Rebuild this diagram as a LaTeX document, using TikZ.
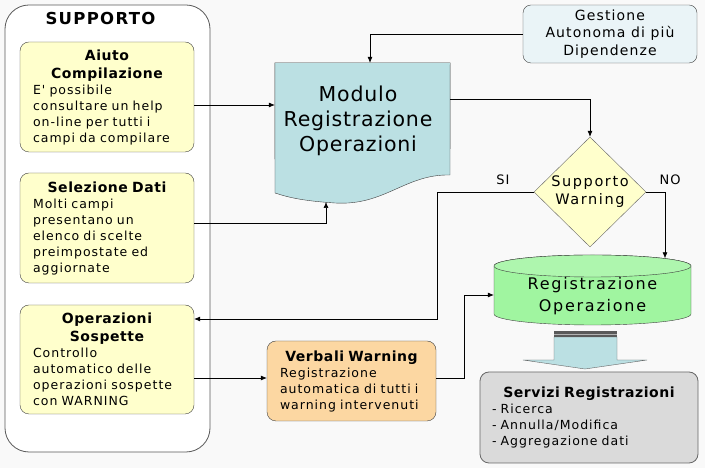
\documentclass[tikz,border=0pt]{standalone}
\usepackage{fontspec}
\setmainfont{DejaVu Sans}
\newfontfamily\wideA{DejaVu Sans}[LetterSpace=4]
\newfontfamily\wideB{DejaVu Sans}[LetterSpace=8]
\newfontfamily\wideC{DejaVu Sans}[LetterSpace=11]
\usepackage{xcolor}
\usetikzlibrary{arrows.meta, positioning, shapes.geometric}

\definecolor{paleyellow}{HTML}{FFFFCC}
\definecolor{paleteal}{HTML}{BBE0E3}
\definecolor{paleblue}{HTML}{EAF4F7}
\definecolor{palegreen}{HTML}{A0F5A0}
\definecolor{paleorange}{HTML}{FCD7A2}
\definecolor{palegray}{HTML}{DADADA}
\definecolor{bggray}{HTML}{F9F9F9}

\newcommand{\boxttl}{\wideA\bfseries\fontsize{14}{18}\selectfont}

\begin{document}
\begin{tikzpicture}[x=1pt, y=1pt,
  box/.style={rectangle, draw=black!75, rounded corners=9pt, inner sep=0pt,
              minimum width=174pt, minimum height=110pt, text width=148pt,
              align=left, font=\wideB\fontsize{12.5}{16}\selectfont},
  arr/.style={-{Latex[length=6pt, width=5pt]}, semithick},
  every node/.style={font=\wideB\fontsize{12.5}{16}\selectfont}
]
  \useasboundingbox (0,0) rectangle (705,468);
  \fill[bggray] (0,0) rectangle (705,468);

  % Supporto
  \node[rectangle, draw=black!65, thick, fill=white, rounded corners=24pt,
        minimum width=205pt, minimum height=447pt] (sup) at (107.5,239.5) {};
  \node[font=\wideB\bfseries\fontsize{16.5}{18}\selectfont, below=4pt of sup.north,
        xshift=-7pt] (supt) {SUPPORTO};

  % Aiuto compilazione
  \node[box, fill=paleyellow] (aiuto) at (107,371)
    {{\centering\boxttl Aiuto\\Compilazione\par}
     E' possibile\\consultare un help\\on-line per tutti i\\campi da compilare};

  % Selezione dati
  \node[box, fill=paleyellow] (sel) at (107,240)
    {{\centering\boxttl Selezione Dati\par}
     Molti campi\\presentano un\\elenco di scelte\\preimpostate ed\\aggiornate};

  % Operazioni sospette
  \node[box, fill=paleyellow, minimum height=109pt] (ops) at (107,108.5)
    {{\centering\boxttl Operazioni\\Sospette\par}
     Controllo\\automatico delle\\operazioni sospette\\con WARNING};

  % Modulo (document)
  \node[minimum width=175pt, minimum height=115pt] (modulo) at (362.5,347.5) {};
  \fill[paleteal, draw=black!75] (modulo.north west) -- (modulo.north east)
    -- (450,293) .. controls (405,294) and (385,262) .. (335,265)
    .. controls (305,267) and (290,270) .. (275,275) -- cycle;
  \node[align=center, font=\wideA\fontsize{20.5}{25}\selectfont] (modt) at (358,347)
    {Modulo\\Registrazione\\Operazioni};
  \coordinate (modbot) at (326,266);

  % Gestione
  \node[rectangle, draw=black!75, fill=paleblue, rounded corners=8pt,
        minimum width=174pt, minimum height=58pt, align=center,
        font=\wideB\fontsize{14}{17.5}\selectfont] (gest) at (610,434)
    {Gestione\\Autonoma di più\\Dipendenze};

  % Supporto warning
  \node[diamond, draw=black!60, fill=paleyellow, inner sep=0pt, minimum width=112pt,
        minimum height=110pt, align=center, font=\wideC\fontsize{14.5}{18}\selectfont] (warn) at (590,276)
    {Supporto\\Warning};
  \node[font=\wideB\fontsize{13}{16}\selectfont] (si) at (503,288) {SI};
  \node[font=\wideB\fontsize{13}{16}\selectfont] (no) at (670,288) {NO};

  % Registrazione operazione (cylinder)
  \node[minimum width=197pt, minimum height=70pt] (reg) at (592.5,178) {};
  \fill[palegreen, draw=black!75] (494,202) -- (494,154) arc (180:360:98.5 and 11)
    -- (691,202) arc (0:180:98.5 and 11) -- cycle;
  \draw[black!75, fill=palegreen!85!white] (592.5,202) ellipse (98.5 and 11);
  \node[align=center, font=\wideC\fontsize{16}{22}\selectfont] (regt) at (592.5,172)
    {Registrazione\\Operazione};

  % Verbali warning
  \node[box, fill=paleorange, minimum width=169pt, minimum height=80pt,
        text width=143pt] (verb) at (351.5,87)
    {{\centering\boxttl Verbali Warning\par}
     Registrazione\\automatica di tutti i\\warning intervenuti};

  % Servizi registrazioni
  \node[box, draw=black!60, thick, fill=palegray, minimum width=218pt,
        minimum height=91pt, text width=194pt] (serv) at (589,50.5)
    {{\centering\boxttl Servizi Registrazioni\par}
     - Ricerca\\- Annulla/Modifica\\- Aggregazione dati};

  % Big arrow
  \fill[paleteal, draw=black!60] (554,131) -- (617,131) -- (617,108) -- (647,108)
    -- (585,99) -- (523,108) -- (554,108) -- cycle;
  \fill[black!65] (554,131) rectangle (617,137);
  \draw[black!30] (554,134) -- (617,134);

  % Arrows
  \draw[arr] ([yshift=-8pt]aiuto.east) -- ([yshift=-8pt]aiuto.east -| modulo.west);
  \draw[arr] ([yshift=5pt]sel.east) -| (modbot);
  \draw[arr] (gest.west) -| ([xshift=7.5pt]modulo.north);
  \draw[arr] ([yshift=21.5pt]modulo.east) -| (warn.north);
  \draw[arr] (warn.west) -- ++(-97,0) |- ([yshift=40.5pt]ops.east);
  \draw[arr] (warn.east) -| ([xshift=72.5pt, yshift=-3.5pt]reg.north);
  \draw[arr] ([yshift=-18.5pt]ops.east) -- ([yshift=-18.5pt]ops.east -| verb.west);
  \draw[arr] ([yshift=3pt]verb.east) -- ++(28,0) |- ([yshift=-5pt]reg.west);
\end{tikzpicture}
\end{document}
